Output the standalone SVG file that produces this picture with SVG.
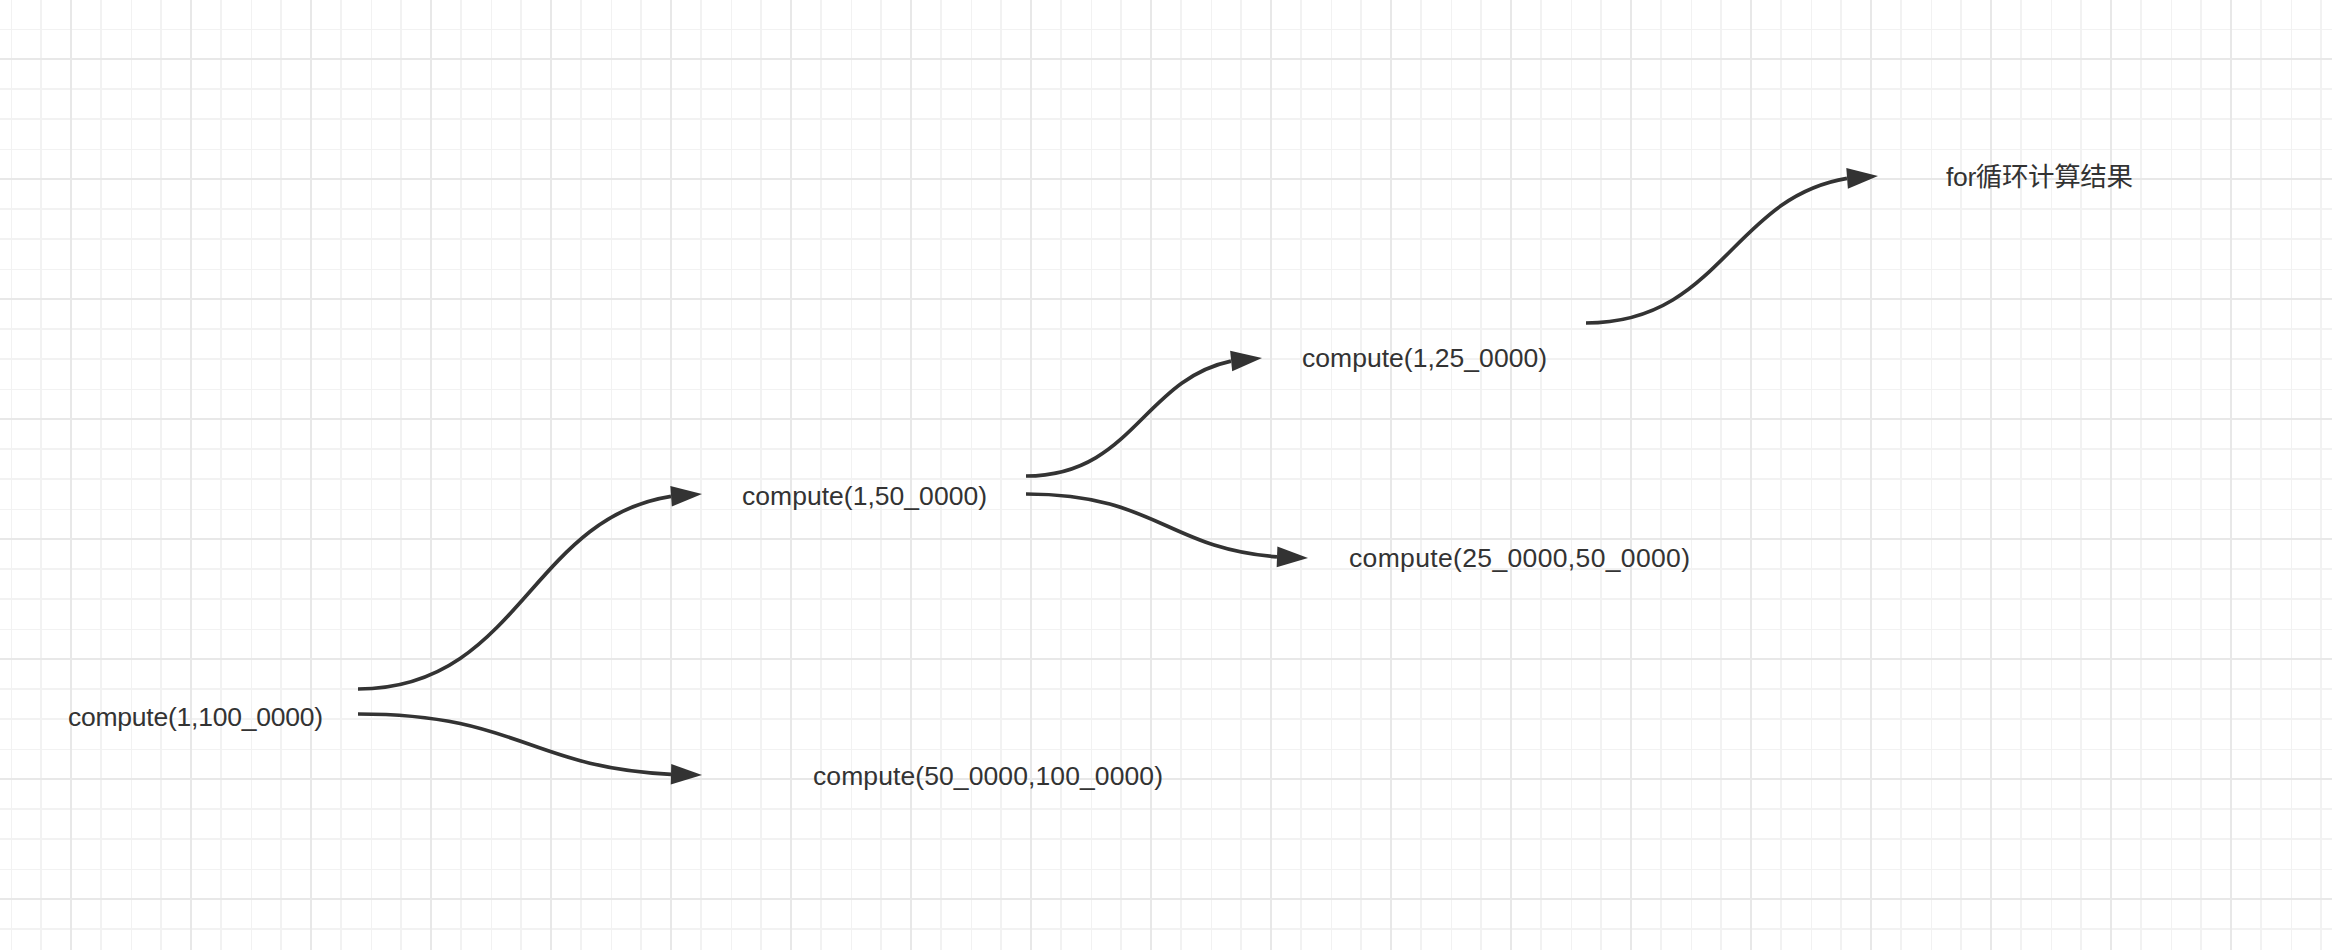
<svg xmlns="http://www.w3.org/2000/svg" xmlns:xlink="http://www.w3.org/1999/xlink" width="2332" height="950" viewBox="0 0 2332 950">
  <style>
    .label { font-family: "Liberation Sans", "Noto Sans CJK SC", sans-serif; font-size: 26.5px; fill: #333333; }
    .edge { fill: none; stroke: #333333; stroke-width: 3.7; }
    .head { fill: #333333; }
  </style>
  <defs>
    <pattern id="grid" patternUnits="userSpaceOnUse" x="11" y="29" width="120" height="120">
      <g stroke="#f2f2f2" stroke-width="2">
        <line x1="0" y1="0" x2="0" y2="120"/>
        <line x1="30" y1="0" x2="30" y2="120"/>
        <line x1="90" y1="0" x2="90" y2="120"/>
        <line x1="0" y1="0" x2="120" y2="0"/>
        <line x1="0" y1="60" x2="120" y2="60"/>
        <line x1="0" y1="90" x2="120" y2="90"/>
      </g>
      <g stroke="#e8e8e8" stroke-width="2">
        <line x1="60" y1="0" x2="60" y2="120"/>
        <line x1="0" y1="30" x2="120" y2="30"/>
      </g>
    </pattern>
    <path id="ah" d="M0,0 L-31,-10.3 L-31,10.3 Z"/>
  </defs>

  <rect x="0" y="0" width="2332" height="950" fill="#ffffff"/>
  <rect x="0" y="0" width="2332" height="950" fill="url(#grid)"/>

  <g id="connectors">
    <path class="edge" d="M358,689 C519,689 529.3,518.2 671,496.3"/>
    <use class="head" href="#ah" transform="translate(702,494) rotate(-4.2)"/>
    <path class="edge" d="M358,714 C519,714 529.3,767.4 671,774.3"/>
    <use class="head" href="#ah" transform="translate(702,775) rotate(1.3)"/>
    <path class="edge" d="M1026,476 C1132.7,476 1142.9,379.6 1231,361.1"/>
    <use class="head" href="#ah" transform="translate(1262,358) rotate(-5.7)"/>
    <path class="edge" d="M1026,494 C1155.9,494 1166.1,548.3 1277,556.9"/>
    <use class="head" href="#ah" transform="translate(1308,558) rotate(2.0)"/>
    <path class="edge" d="M1586,323 C1720.9,323 1731.2,197.6 1847,178.4"/>
    <use class="head" href="#ah" transform="translate(1878,176) rotate(-4.4)"/>
  </g>

  <g id="node-root"><text class="label" x="68" y="726" textLength="255" lengthAdjust="spacing">compute(1,100_0000)</text></g>
  <g id="node-left-half"><text class="label" x="742" y="505" textLength="245" lengthAdjust="spacing">compute(1,50_0000)</text></g>
  <g id="node-right-half"><text class="label" x="813" y="785" textLength="350" lengthAdjust="spacing">compute(50_0000,100_0000)</text></g>
  <g id="node-left-quarter"><text class="label" x="1302" y="367" textLength="245" lengthAdjust="spacing">compute(1,25_0000)</text></g>
  <g id="node-second-quarter"><text class="label" x="1349" y="567" textLength="341" lengthAdjust="spacing">compute(25_0000,50_0000)</text></g>
  <g id="node-result"><text class="label" x="1946" y="186" textLength="187" lengthAdjust="spacing">for循环计算结果</text></g>
</svg>
